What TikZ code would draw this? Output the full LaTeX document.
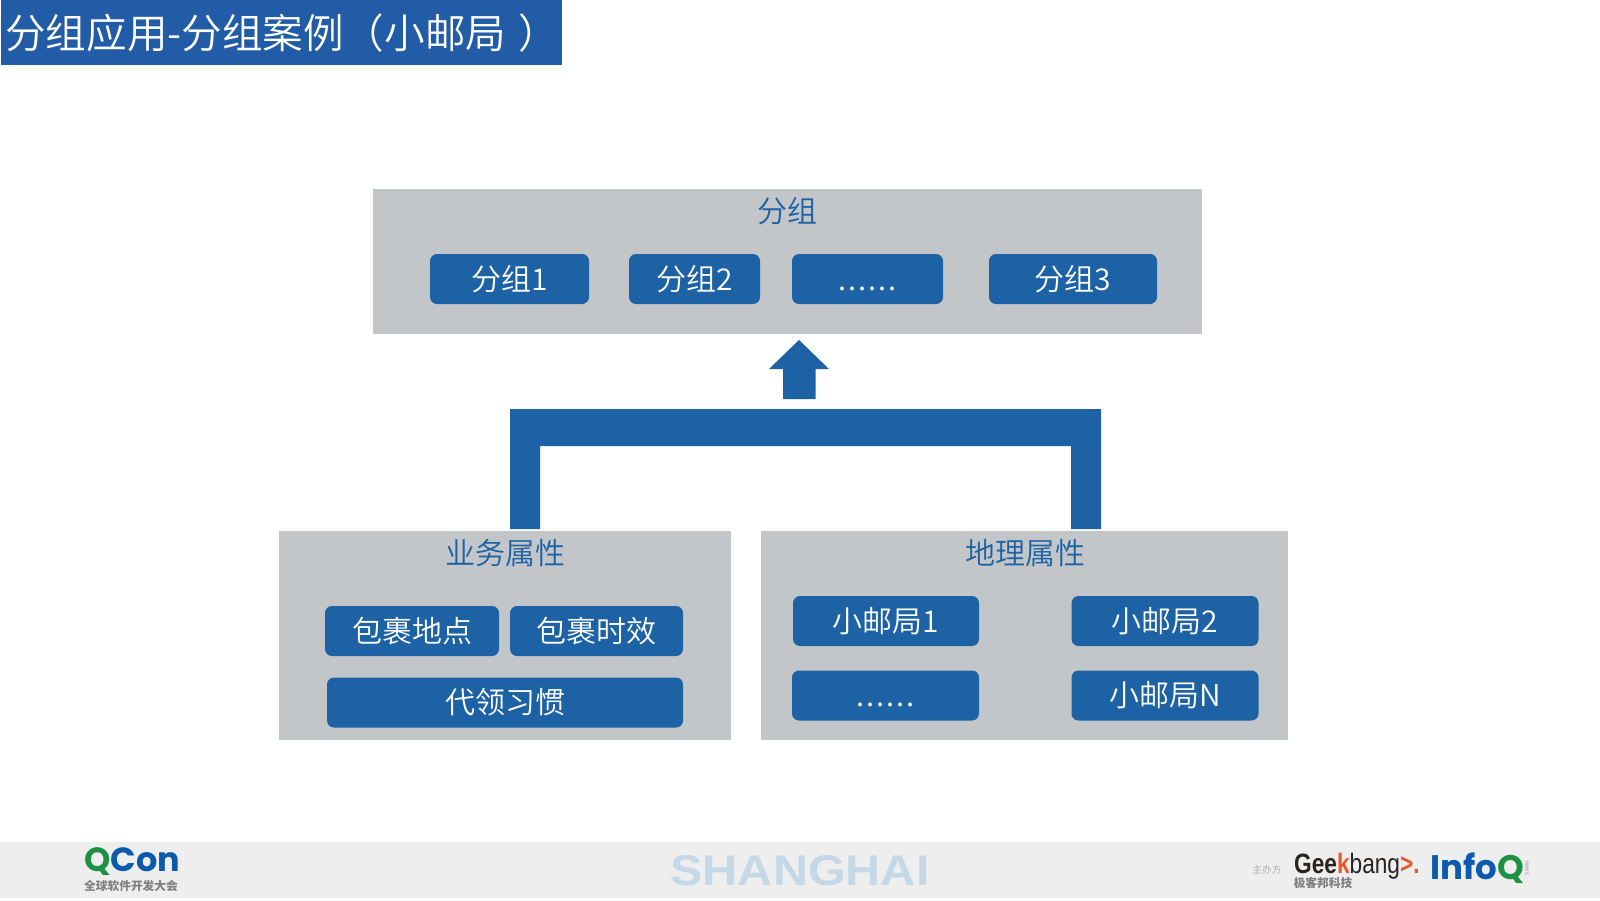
\documentclass[tikz,border=0pt]{standalone}
\usepackage{fontspec}
\setmainfont{Liberation Sans}
\newfontfamily\cjk{Noto Sans CJK SC DemiLight}
\newfontfamily\cjkbold{Noto Sans CJK SC}
\newfontfamily\logofont{Poppins}
\usetikzlibrary{calc}

\definecolor{titleblue}{HTML}{225CA6}
\definecolor{btnblue}{HTML}{1C62A4}
\definecolor{panelgray}{HTML}{C3C6C9}
\definecolor{footgray}{HTML}{EEEEEE}
\definecolor{logoblue}{HTML}{0B5AAE}
\definecolor{logogreen}{HTML}{1E9145}
\definecolor{logoorange}{HTML}{E8582A}
\definecolor{logodark}{HTML}{2A2523}
\definecolor{citytext}{HTML}{C5D8E8}

\newcommand{\fsz}[1]{\fontsize{#1}{#1}\selectfont}
\newcommand{\sixdots}{\vphantom{\cjk 分}{\addfontfeature{LetterSpace=7}......}}

\tikzset{
  grouphead/.style={text=btnblue,inner sep=0,font=\cjk\fsz{30}},
  btn/.style={fill=btnblue,draw=none,rounded corners=7pt,inner sep=0,text=white,
    minimum height=50pt,font=\cjk\fsz{30}},
  smalllogo/.style={inner sep=0,font=\cjkbold\bfseries\fsz{11.7},text=black!50}
}

\begin{document}
\begin{tikzpicture}[x=1pt,y=-1pt]

\useasboundingbox (0,0) rectangle (1600,900);

% title
\fill[titleblue] (1,0) rectangle (562,65);
\node[inner sep=0,anchor=west,text=white,font=\cjk\fsz{40.6}] (title) at (5,33) {分组应用-分组案例（小邮局\hspace{12pt}）};

% panels
\fill[panelgray] (373,189) rectangle (1202,334);
\fill[panelgray] (279,531) rectangle (731,740);
\fill[panelgray] (761,531) rectangle (1288,740);

\node[grouphead] (grp) at (787,211) {分组};
\node[grouphead] (biz) at (505,553) {业务属性};
\node[grouphead] (geo) at (1025,553) {地理属性};

% top row
\node[btn,minimum width=159pt] (g1) at (509.5,279) {分组1};
\node[btn,minimum width=131pt] (g2) at (694.5,279) {分组2};
\node[btn,minimum width=151pt] (g3) at (867.5,279) {\sixdots};
\node[btn,minimum width=168pt] (g4) at (1073,279) {分组3};

% left panel
\node[btn,minimum width=174pt] (b1) at (412,631) {包裹地点};
\node[btn,minimum width=173pt] (b2) at (596.5,631) {包裹时效};
\node[btn,minimum width=356pt] (b3) at (505,702.5) {代领习惯};

% right panel
\node[btn,minimum width=186pt] (p1) at (886,621) {小邮局1};
\node[btn,minimum width=187pt] (p2) at (1165,621) {小邮局2};
\node[btn,minimum width=187pt] (p3) at (885.5,695.5) {\sixdots};
\node[btn,minimum width=187pt] (p4) at (1165,695.5) {小邮局N};

% bracket and arrow
\fill[btnblue] (510,529) -- (510,409) -- (1101,409) -- (1101,529) -- (1071,529)
  -- (1071,446) -- (540,446) -- (540,529) -- cycle;
\fill[btnblue] (799,340) -- (829,369) -- (815.5,369) -- (815.5,399) -- (783,399)
  -- (783,369) -- (769,369) -- cycle;

% footer
\fill[footgray] (0,842) rectangle (1600,898);
\node[inner sep=0,font=\bfseries\fsz{43},text=citytext,xscale=1.13,transform shape] (city) at (800,870.5) {SHANGHAI};

\node[inner sep=0,anchor=west,font=\logofont\bfseries\fsz{33.5}] (qcon) at (84,862)
  {\textcolor{logogreen}{Q}\textcolor{logoblue}{Con}};
\node[smalllogo] (qconsub) at (131,886.5) {全球软件开发大会};

\node[inner sep=0,font=\cjk\fsz{9.7},text=black!35] (host) at (1267,870) {主办方};
\node[inner sep=0,anchor=west,font=\bfseries\fsz{28},xscale=.81,transform shape] (geek) at (1294,866.5)
  {\textcolor{logodark}{Gee}\textcolor{logoorange}{k}\textcolor{logodark}{\normalfont bang}\textcolor{logoorange}{>.}};
\node[smalllogo] (geeksub) at (1323,883.5) {极客邦科技};
\node[inner sep=0,anchor=west,font=\logofont\bfseries\fsz{34}] (infoq) at (1430,868)
  {\textcolor{logoblue}{Info}\textcolor{logogreen}{Q}};
\node[inner sep=0,rotate=-90,font=\fsz{6},text=black!40] (news) at (1527,868) {news};

\end{tikzpicture}
\end{document}
